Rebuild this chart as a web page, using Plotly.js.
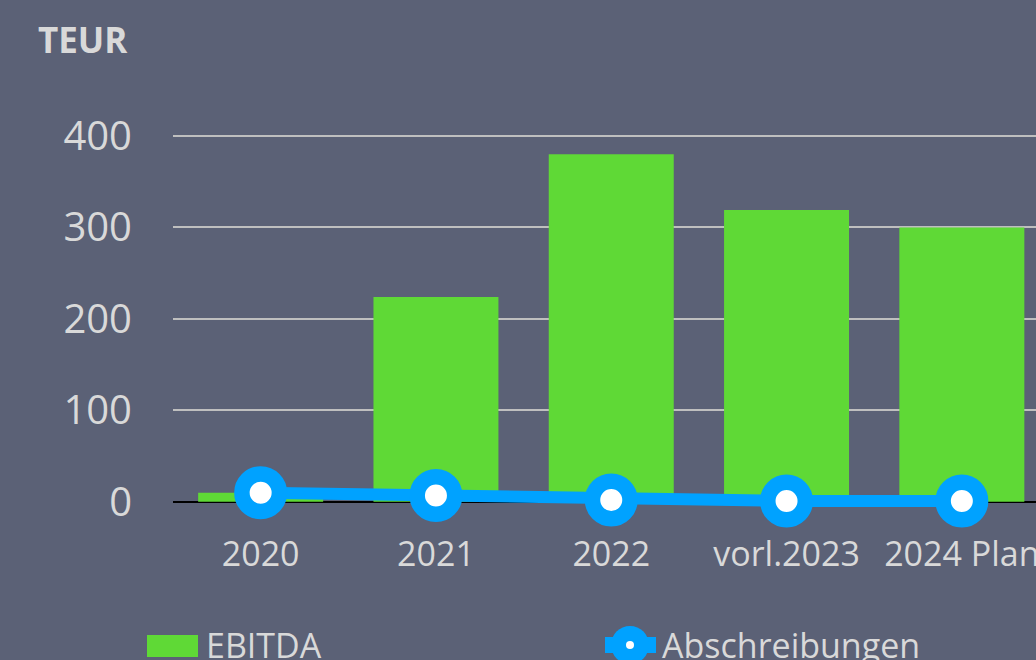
<!DOCTYPE html>
<html>
<head>
<meta charset="utf-8">
<script src="https://cdn.plot.ly/plotly-3.0.1.min.js"></script>
<style>html,body{margin:0;padding:0;overflow:hidden;background:#5B6176;}</style>
</head>
<body>
<div id="chart" style="width:1036px;height:660px;"></div>
<script>
const categories = ["2020", "2021", "2022", "vorl.2023", "2024 Plan"];
const ebitda = [10, 224, 380, 319, 300];
const abschreibungen = [10, 7, 2, 1, 1];
const yTicks = [0, 100, 200, 300, 400];
const seriesNames = ["EBITDA", "Abschreibungen"];

const bg = "rgb(91,97,118)";
const textCol = "#D9D9D9";
const green = "#5FD936";
const blue = "#00A2FF";

// plot area geometry (pixels)
const W = 1036, H = 660;
const M = {l: 173, r: 0, t: 100, b: 149};
const pw = W - M.l - M.r, ph = H - M.t - M.b;
const px = v => (v - M.l) / pw;          // pixel x -> paper x
const py = v => (H - M.b - v) / ph;      // pixel y -> paper y

const traces = [
  {
    type: "bar",
    name: seriesNames[0],
    x: categories,
    y: ebitda,
    width: 0.713,
    marker: {color: green, line: {width: 0}},
    hoverinfo: "x+y"
  },
  {
    type: "scatter",
    mode: "lines+markers",
    name: seriesNames[1],
    x: categories,
    y: abschreibungen,
    cliponaxis: false,
    line: {color: blue, width: 12},
    marker: {symbol: "circle", size: 37.5, color: "#FFFFFF", line: {color: blue, width: 15.5}},
    hoverinfo: "x+y"
  }
];

// custom legend (layout decoration)
const shapes = [
  {type: "rect", xref: "paper", yref: "paper", x0: px(147), x1: px(198), y0: py(657), y1: py(635),
   fillcolor: green, line: {width: 0}, layer: "above"},
  {type: "line", xref: "paper", yref: "paper", x0: px(605), x1: px(656), y0: py(645), y1: py(645),
   line: {color: blue, width: 16}, layer: "above"},
  {type: "circle", xref: "paper", yref: "paper", x0: px(611), x1: px(649), y0: py(664), y1: py(626),
   fillcolor: blue, line: {width: 0}, layer: "above"},
  {type: "circle", xref: "paper", yref: "paper", x0: px(626), x1: px(634), y0: py(649), y1: py(641),
   fillcolor: "#FFFFFF", line: {width: 0}, layer: "above"}
];

const layout = {
  width: W,
  height: H,
  paper_bgcolor: bg,
  plot_bgcolor: bg,
  margin: {l: M.l, r: M.r, t: M.t, b: M.b, autoexpand: false},
  font: {family: "Open Sans, sans-serif", color: textCol},
  showlegend: false,
  xaxis: {
    type: "category",
    categoryorder: "array",
    categoryarray: categories,
    range: [-0.5, 4.423],
    showgrid: false,
    zeroline: false,
    showline: false,
    ticks: "",
    ticklabelstandoff: 20,
    tickfont: {size: 34, color: textCol},
    fixedrange: true
  },
  yaxis: {
    range: [-10, 439.3],
    tickvals: yTicks,
    ticktext: yTicks.map(String),
    showgrid: true,
    gridcolor: "#BFBFBF",
    gridwidth: 2,
    zeroline: true,
    zerolinecolor: "#000000",
    zerolinewidth: 2,
    showline: false,
    ticks: "",
    ticklabelstandoff: 40,
    tickfont: {size: 40, color: textCol},
    fixedrange: true
  },
  shapes: shapes,
  annotations: [
    {
      text: "<b>TEUR</b>",
      xref: "paper", yref: "paper",
      x: px(36), y: py(40),
      xanchor: "left", yanchor: "middle",
      showarrow: false,
      font: {family: "Open Sans, sans-serif", size: 35, color: textCol}
    },
    {
      text: seriesNames[0],
      xref: "paper", yref: "paper",
      x: px(204), y: py(645),
      xanchor: "left", yanchor: "middle",
      showarrow: false,
      font: {family: "Open Sans, sans-serif", size: 34, color: textCol}
    },
    {
      text: seriesNames[1],
      xref: "paper", yref: "paper",
      x: px(660), y: py(645),
      xanchor: "left", yanchor: "middle",
      showarrow: false,
      font: {family: "Open Sans, sans-serif", size: 34, color: textCol}
    }
  ]
};

Plotly.newPlot("chart", traces, layout, {displayModeBar: false, staticPlot: true});
</script>
</body>
</html>
